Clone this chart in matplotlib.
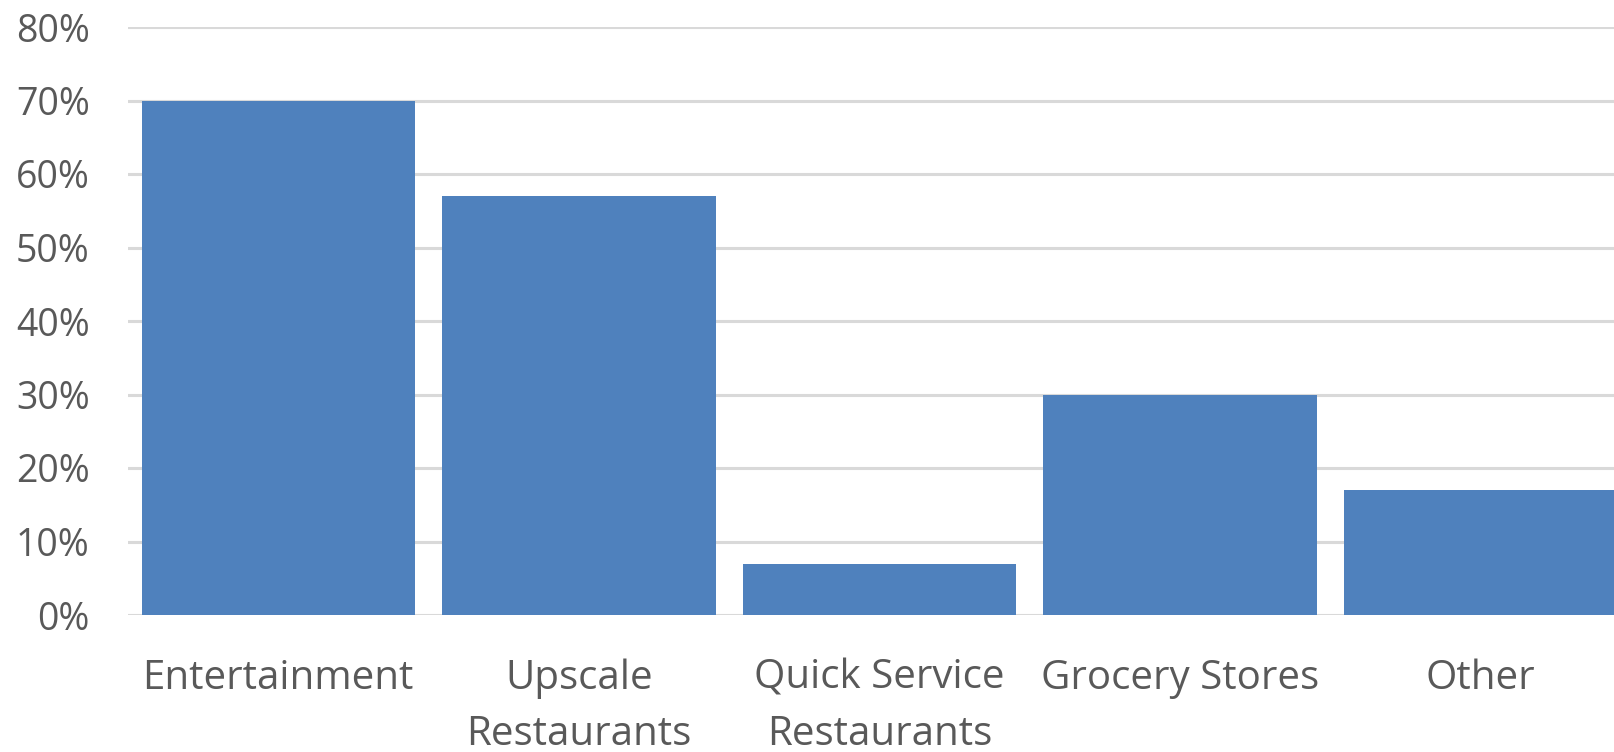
import matplotlib
matplotlib.use("Agg")
import matplotlib.pyplot as plt
from matplotlib.ticker import PercentFormatter

# data
categories = ["Entertainment", "Upscale\nRestaurants", "Quick Service\nRestaurants",
              "Grocery Stores", "Other"]
shares = [70, 57, 7, 30, 17]
yticks = [0, 10, 20, 30, 40, 50, 60, 70, 80]

plt.rcParams['font.family'] = ['Open Sans', 'DejaVu Sans']

W, H = 1615, 752
fig = plt.figure(figsize=(W / 100, H / 100), dpi=100)
# the plot area runs off the right edge of the image, as in the reference
ax = fig.add_axes([128 / W, 137 / H, 1503 / W, 588 / H])

ax.bar(range(len(categories)), shares, width=0.91, color="#4F81BD", zorder=3)

ax.set_xlim(-0.5, len(categories) - 0.5)
ax.set_ylim(0, 80)
ax.set_yticks(yticks)
ax.yaxis.set_major_formatter(PercentFormatter(decimals=0))
ax.set_xticks(range(len(categories)))
ax.set_xticklabels(categories, linespacing=1.53)

ax.grid(axis="y", color="#D9D9D9", linewidth=2.2, zorder=0)
ax.set_axisbelow(True)
for s in ax.spines.values():
    s.set_visible(False)
ax.tick_params(axis="both", length=0, colors="#595959")
ax.tick_params(axis="y", pad=27.5, labelsize=27)
ax.tick_params(axis="x", pad=31, labelsize=29)

fig.savefig("out.png", dpi=100)
